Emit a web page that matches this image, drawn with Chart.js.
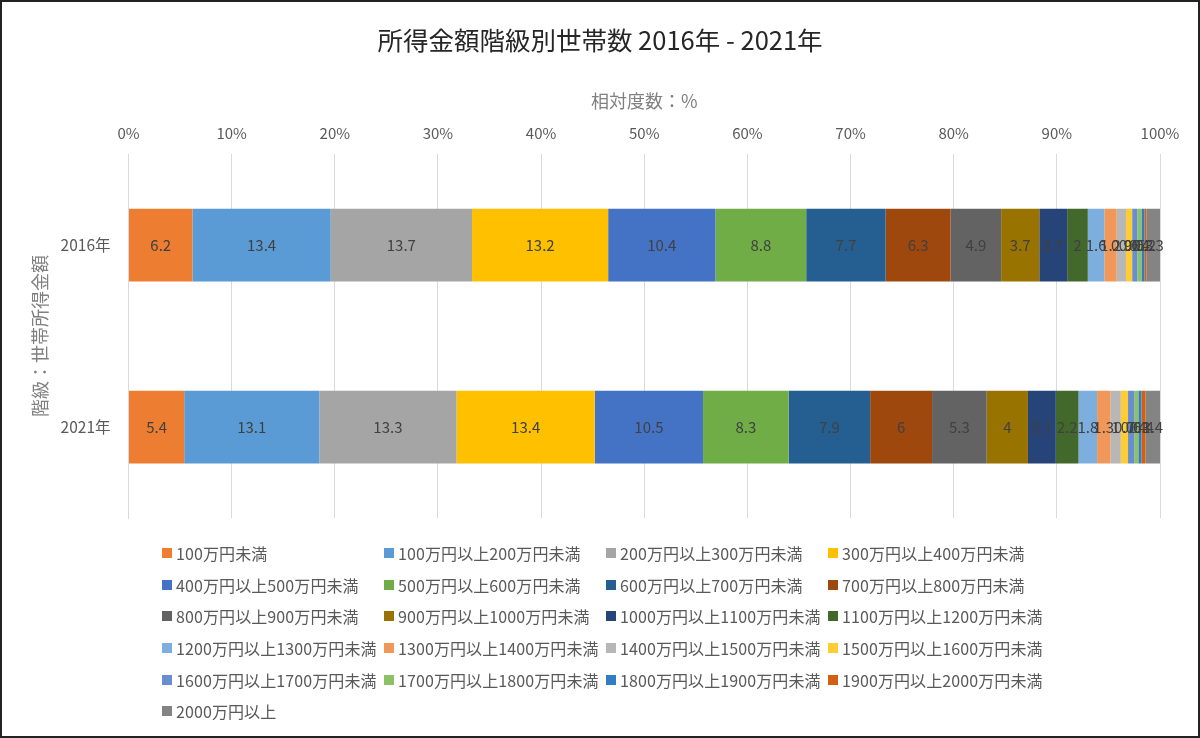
<!DOCTYPE html>
<html>
<head>
<meta charset="utf-8">
<script src="https://cdn.jsdelivr.net/npm/chart.js@4"></script>
<style>
  html, body { margin:0; padding:0; background:#fff; }
  #wrap { position:relative; width:1200px; height:738px; overflow:hidden; font-family:"Noto Sans CJK JP","Noto Sans",sans-serif; }
  #c { position:absolute; left:0; top:0; }
  #frame { position:absolute; left:0; top:0; width:1196px; height:734px; border:2px solid #222; pointer-events:none; }
  #legend { position:absolute; left:162px; top:537px; width:920px; display:grid; grid-template-columns:222px 222px 222px 222px; grid-auto-rows:31.7px; }
  .li { display:flex; align-items:center; font-size:16px; color:#595959; white-space:nowrap; letter-spacing:0.1px; }
  .sw { width:10px; height:10px; margin-right:4px; flex:0 0 auto; }
</style>
</head>
<body>
<div id="wrap">
  <canvas id="c" width="1200" height="738"></canvas>
  <div id="legend"></div>
  <div id="frame"></div>
</div>
<script>
const years = ["2016年", "2021年"];
const classes = [
  "100万円未満","100万円以上200万円未満","200万円以上300万円未満","300万円以上400万円未満",
  "400万円以上500万円未満","500万円以上600万円未満","600万円以上700万円未満","700万円以上800万円未満",
  "800万円以上900万円未満","900万円以上1000万円未満","1000万円以上1100万円未満","1100万円以上1200万円未満",
  "1200万円以上1300万円未満","1300万円以上1400万円未満","1400万円以上1500万円未満","1500万円以上1600万円未満",
  "1600万円以上1700万円未満","1700万円以上1800万円未満","1800万円以上1900万円未満","1900万円以上2000万円未満",
  "2000万円以上"
];
const values2016 = [6.2, 13.4, 13.7, 13.2, 10.4, 8.8, 7.7, 6.3, 4.9, 3.7, 2.7, 2, 1.6, 1.2, 0.9, 0.6, 0.5, 0.4, 0.3, 0.2, 1.3];
const values2021 = [5.4, 13.1, 13.3, 13.4, 10.5, 8.3, 7.9, 6, 5.3, 4, 2.7, 2.2, 1.8, 1.3, 1, 0.7, 0.6, 0.4, 0.3, 0.4, 1.4];
const tickLabels = ["0%","10%","20%","30%","40%","50%","60%","70%","80%","90%","100%"];
const colors = [
  "#ED7D31","#5B9BD5","#A5A5A5","#FFC000","#4472C4","#70AD47","#255E91","#9E480E",
  "#636363","#997300","#264478","#43682B","#7CAFDD","#F1975A","#B7B7B7","#FFCD33",
  "#698ED0","#8CC168","#327DC2","#D26012","#848484"
];

const FONT = '"Noto Sans CJK JP","Noto Sans",sans-serif';

// percentages (100% stacked)
const tot2016 = values2016.reduce((a,b)=>a+b,0);
const tot2021 = values2021.reduce((a,b)=>a+b,0);

const datasets = classes.map((name, i) => ({
  label: name,
  data: [values2016[i] / tot2016 * 100, values2021[i] / tot2021 * 100],
  raw: [values2016[i], values2021[i]],
  backgroundColor: colors[i],
  borderWidth: 0,
  barPercentage: 0.8,
  categoryPercentage: 0.5
}));

const labelPlugin = {
  id: 'segLabels',
  afterDatasetsDraw(chart) {
    const ctx = chart.ctx;
    ctx.save();
    ctx.font = '15px ' + FONT;
    ctx.fillStyle = '#404040';
    ctx.textAlign = 'center';
    ctx.textBaseline = 'middle';
    chart.data.datasets.forEach((ds, di) => {
      const meta = chart.getDatasetMeta(di);
      meta.data.forEach((el, j) => {
        const x = (el.x + el.base) / 2;
        ctx.fillText(String(ds.raw[j]), x, el.y);
      });
    });
    ctx.restore();
  }
};

new Chart(document.getElementById('c'), {
  type: 'bar',
  data: { labels: years, datasets },
  options: {
    indexAxis: 'y',
    responsive: false,
    animation: false,
    layout: { padding: { left: 29, right: 29, top: 0, bottom: 220 } },
    plugins: {
      legend: { display: false },
      tooltip: { enabled: false },
      title: {
        display: true,
        text: '所得金額階級別世帯数 2016年 - 2021年',
        color: '#262626',
        font: { family: FONT, size: 25.5, weight: 'normal' },
        padding: { top: 25, bottom: 31 }
      }
    },
    scales: {
      x: {
        position: 'top',
        stacked: true,
        min: 0, max: 100,
        ticks: {
          stepSize: 10,
          color: '#595959',
          font: { family: FONT, size: 15 },
          padding: 12,
          callback: (v, i) => tickLabels[i]
        },
        grid: { color: '#D9D9D9', lineWidth: 1, drawTicks: false },
        border: { display: false },
        title: {
          display: true,
          text: '相対度数：%',
          color: '#808080',
          font: { family: FONT, size: 18 },
          padding: { top: 4, bottom: 0 }
        }
      },
      y: {
        stacked: true,
        ticks: {
          color: '#595959',
          font: { family: FONT, size: 15.5 },
          padding: 18
        },
        grid: { display: false, drawTicks: false },
        border: { display: true, color: '#D9D9D9' },
        title: {
          display: true,
          text: '階級：世帯所得金額',
          color: '#808080',
          font: { family: FONT, size: 18 },
          padding: { top: 0, bottom: 4 }
        },
        afterFit(axis) { axis.width = axis.width - 12; }
      },
      yRight: {
        type: 'category',
        labels: years,
        position: 'right',
        grid: { display: false, drawTicks: false },
        border: { display: false },
        ticks: { display: false },
        afterFit(axis) { axis.width = 11; }
      }
    }
  },
  plugins: [labelPlugin]
});

const legend = document.getElementById('legend');
classes.forEach((name, i) => {
  const d = document.createElement('div');
  d.className = 'li';
  const s = document.createElement('span');
  s.className = 'sw';
  s.style.background = colors[i];
  const t = document.createElement('span');
  t.textContent = name;
  d.appendChild(s); d.appendChild(t);
  legend.appendChild(d);
});
</script>
</body>
</html>
